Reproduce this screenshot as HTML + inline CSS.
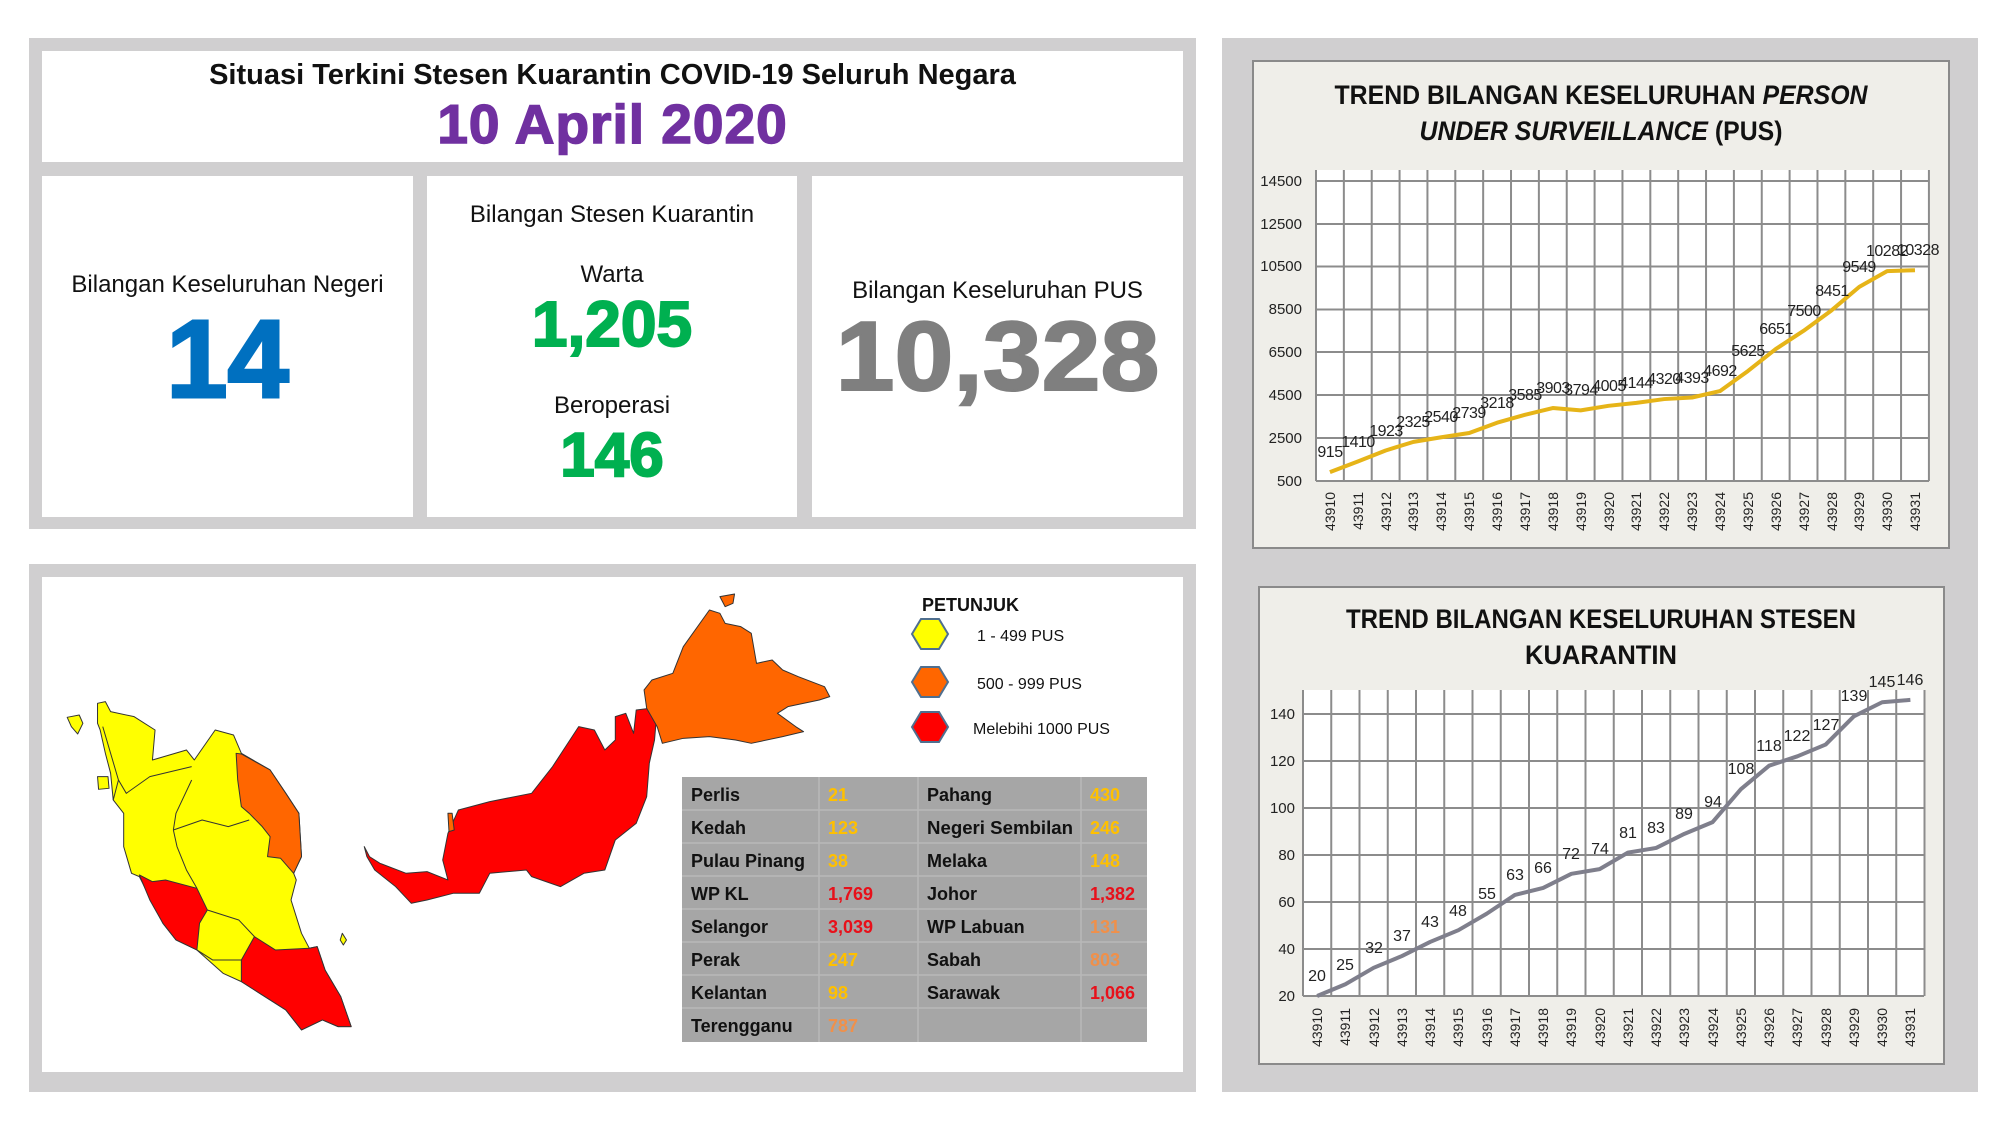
<!DOCTYPE html>
<html><head><meta charset="utf-8">
<style>
html,body{margin:0;padding:0;background:#fff;}
body{width:2000px;height:1125px;position:relative;overflow:hidden;font-family:"Liberation Sans",Arial,sans-serif;}
.a{position:absolute;}
.c{position:absolute;text-align:center;white-space:nowrap;}
</style></head><body>

<!-- top-left panel -->
<div class="a" style="left:29px;top:38px;width:1167px;height:491px;background:#d0cfd0;"></div>
<div class="a" style="left:42px;top:51px;width:1141px;height:111px;background:#fff;"></div>
<div class="a" style="left:42px;top:176px;width:371px;height:341px;background:#fff;"></div>
<div class="a" style="left:427px;top:176px;width:370px;height:341px;background:#fff;"></div>
<div class="a" style="left:812px;top:176px;width:371px;height:341px;background:#fff;"></div>

<div class="c" style="left:42px;width:1141px;top:59px;font-size:29px;font-weight:bold;color:#111;">Situasi Terkini Stesen Kuarantin COVID-19 Seluruh Negara</div>
<div class="c" style="left:42px;width:1141px;top:92px;font-size:55px;font-weight:bold;color:#7030a0;letter-spacing:1px;-webkit-text-stroke:1.5px #7030a0;">10 April 2020</div>

<div class="c" style="left:42px;width:371px;top:271px;font-size:24px;color:#111;">Bilangan Keseluruhan Negeri</div>
<div class="c" style="left:42px;width:371px;top:300px;font-size:110px;font-weight:bold;color:#0070c0;line-height:120px;-webkit-text-stroke:3px #0070c0;">14</div>

<div class="c" style="left:427px;width:370px;top:201px;font-size:24px;color:#111;">Bilangan Stesen Kuarantin</div>
<div class="c" style="left:427px;width:370px;top:261px;font-size:24px;color:#111;">Warta</div>
<div class="c" style="left:427px;width:370px;top:287px;font-size:64px;font-weight:bold;color:#00b050;line-height:74px;-webkit-text-stroke:2px #00b050;">1,205</div>
<div class="c" style="left:427px;width:370px;top:392px;font-size:24px;color:#111;">Beroperasi</div>
<div class="c" style="left:427px;width:370px;top:420px;font-size:62px;font-weight:bold;color:#00b050;line-height:72px;-webkit-text-stroke:2px #00b050;">146</div>

<div class="c" style="left:812px;width:371px;top:277px;font-size:24px;color:#111;">Bilangan Keseluruhan PUS</div>
<div class="c" style="left:812px;width:371px;top:301px;font-size:98px;font-weight:bold;color:#7f7f7f;line-height:110px;transform:scaleX(1.08);-webkit-text-stroke:2px #7f7f7f;">10,328</div>

<!-- bottom-left panel -->
<div class="a" style="left:29px;top:564px;width:1167px;height:528px;background:#d0cfd0;"></div>
<div class="a" style="left:42px;top:577px;width:1141px;height:495px;background:#fff;"></div>

<!-- right panel -->
<div class="a" style="left:1222px;top:38px;width:756px;height:1054px;background:#d0cfd0;"></div>
<div class="a" style="left:1252px;top:60px;width:694px;height:485px;background:#efeee9;border:2px solid #8a8a8a;"></div>
<div class="a" style="left:1258px;top:586px;width:683px;height:475px;background:#efeee9;border:2px solid #8a8a8a;"></div>

<svg class="a" style="left:0;top:0" width="2000" height="1125" viewBox="0 0 2000 1125" font-family="Liberation Sans, Arial, sans-serif">
<!-- MAP -->
<g transform="translate(40,580) scale(0.523,0.3333)" stroke="#333" stroke-width="1" stroke-linejoin="round">
 <path vector-effect="non-scaling-stroke" fill="#ffff00" d="M110,370 L125,365 L135,395 L180,410 L220,450 L215,540 L280,510 L295,540 L335,450 L370,465 L385,520 L440,570 L470,640 L495,700 L500,830 L485,880 L490,900 L480,960 L500,1060 L515,1105 L530,1100 L545,1170 L575,1250 L595,1340 L570,1340 L540,1320 L500,1350 L470,1290 L420,1240 L385,1205 L350,1180 L300,1110 L260,1080 L235,1030 L190,890 L175,880 L160,800 L160,700 L140,660 L135,580 L125,520 L115,450 L110,430 Z"/>
 <path vector-effect="non-scaling-stroke" fill="#ffff00" d="M52,412 L75,405 L82,430 L72,462 L60,440 Z M110,590 L130,590 L132,625 L112,628 Z M578,1060 L586,1080 L580,1095 L574,1080 Z"/>
 <path vector-effect="non-scaling-stroke" fill="#ff6600" d="M375,520 L385,522 L440,570 L470,640 L495,700 L500,830 L485,880 L460,835 L435,830 L440,770 L425,740 L400,700 L385,680 L378,600 Z"/>
 <path vector-effect="non-scaling-stroke" fill="#ff0000" d="M190,885 L215,905 L240,900 L300,925 L320,990 L305,1030 L300,1110 L260,1080 L235,1030 L210,960 Z"/>
 <path vector-effect="non-scaling-stroke" fill="#ff0000" d="M410,1070 L450,1110 L515,1105 L530,1100 L545,1170 L575,1250 L595,1340 L570,1340 L540,1320 L500,1350 L470,1290 L420,1240 L385,1205 L385,1140 Z"/>
 <path vector-effect="non-scaling-stroke" fill="none" d="M120,440 L150,600 L140,660 M150,600 L165,640 L210,590 L290,560 M255,750 L260,700 L290,600 M255,750 L310,720 L360,740 L400,720 M255,750 L262,800 L280,870 L300,925 M320,990 L380,1020 L410,1070 M300,1110 L330,1140 L385,1140"/>
 <path vector-effect="non-scaling-stroke" fill="#ff0000" d="M620,800 L630,830 L650,850 L700,880 L740,875 L780,900 L770,840 L780,760 L800,690 L860,665 L940,640 L980,560 L1030,440 L1060,450 L1080,510 L1100,480 L1100,410 L1120,400 L1135,460 L1140,390 L1165,385 L1180,390 L1175,480 L1165,550 L1160,650 L1140,730 L1100,780 L1080,870 L1040,880 L995,920 L940,890 L930,870 L860,880 L840,940 L790,940 L740,960 L710,970 L680,920 L640,870 L625,830 Z"/>
 <path vector-effect="non-scaling-stroke" fill="#ff6600" d="M1160,385 L1155,330 L1170,300 L1210,280 L1230,200 L1280,90 L1300,100 L1310,130 L1340,140 L1360,160 L1370,250 L1400,240 L1420,270 L1450,290 L1500,320 L1510,350 L1490,360 L1430,380 L1410,400 L1445,440 L1460,455 L1420,470 L1360,490 L1330,480 L1280,470 L1230,475 L1190,490 L1180,440 Z M1300,50 L1328,42 L1325,70 L1310,80 Z M780,700 L788,700 L792,750 L782,755 Z"/>
</g>

<!-- Legend -->
<text x="922" y="611" font-size="18" font-weight="bold" fill="#111">PETUNJUK</text>
<polygon points="912,634 921,619 939,619 948,634 939,649 921,649" fill="#ffff00" stroke="#4f6f8f" stroke-width="2"/>
<polygon points="912,682 921,667 939,667 948,682 939,697 921,697" fill="#ff6600" stroke="#4f6f8f" stroke-width="2"/>
<polygon points="912,727 921,712 939,712 948,727 939,742 921,742" fill="#ff0000" stroke="#4f6f8f" stroke-width="2"/>
<text x="977" y="641" font-size="16" fill="#111">1 - 499 PUS</text>
<text x="977" y="689" font-size="16" fill="#111">500 - 999 PUS</text>
<text x="973" y="734" font-size="16" fill="#111">Melebihi  1000 PUS</text>

<!-- Table -->
<rect x="682" y="777" width="465" height="265" fill="#a6a6a6"/>
<g stroke="#b8b8b8" stroke-width="1.5">
<line x1="819" y1="777" x2="819" y2="1042"/><line x1="918" y1="777" x2="918" y2="1042"/><line x1="1081" y1="777" x2="1081" y2="1042"/>
<line x1="682" y1="810" x2="1147" y2="810"/><line x1="682" y1="843" x2="1147" y2="843"/><line x1="682" y1="876" x2="1147" y2="876"/>
<line x1="682" y1="909" x2="1147" y2="909"/><line x1="682" y1="942" x2="1147" y2="942"/><line x1="682" y1="975" x2="1147" y2="975"/><line x1="682" y1="1008" x2="1147" y2="1008"/>
</g>
<g font-size="18" font-weight="bold">
<g fill="#111">
<text x="691" y="801">Perlis</text><text x="691" y="834">Kedah</text><text x="691" y="867">Pulau Pinang</text><text x="691" y="900">WP KL</text>
<text x="691" y="933">Selangor</text><text x="691" y="966">Perak</text><text x="691" y="999">Kelantan</text><text x="691" y="1032">Terengganu</text>
<text x="927" y="801">Pahang</text><text x="927" y="834" textLength="146" lengthAdjust="spacingAndGlyphs">Negeri Sembilan</text><text x="927" y="867">Melaka</text><text x="927" y="900">Johor</text>
<text x="927" y="933">WP Labuan</text><text x="927" y="966">Sabah</text><text x="927" y="999">Sarawak</text>
</g>
<g fill="#ffc000"><text x="828" y="801">21</text><text x="828" y="834">123</text><text x="828" y="867">38</text><text x="828" y="966">247</text><text x="828" y="999">98</text>
<text x="1090" y="801">430</text><text x="1090" y="834">246</text><text x="1090" y="867">148</text></g>
<g fill="#e8101a"><text x="828" y="900">1,769</text><text x="828" y="933">3,039</text><text x="1090" y="900">1,382</text><text x="1090" y="999">1,066</text></g>
<g fill="#f0904a"><text x="828" y="1032">787</text><text x="1090" y="933">131</text><text x="1090" y="966">803</text></g>
</g>

<!-- CHART 1 -->
<text x="1601" y="104" font-size="27" font-weight="bold" text-anchor="middle" fill="#111" textLength="533" lengthAdjust="spacingAndGlyphs">TREND BILANGAN KESELURUHAN <tspan font-style="italic">PERSON</tspan></text>
<text x="1601" y="140" font-size="27" font-weight="bold" text-anchor="middle" fill="#111" textLength="363" lengthAdjust="spacingAndGlyphs"><tspan font-style="italic">UNDER SURVEILLANCE</tspan> (PUS)</text>
<rect x="1316" y="170" width="613" height="311" fill="#fff"/>
<g stroke="#8c8c8c" stroke-width="2" fill="none">
<path d="M1316 181H1929M1316 224H1929M1316 266.5H1929M1316 309.5H1929M1316 352H1929M1316 395H1929M1316 438H1929M1316 481H1929"/>
<g transform="translate(1316,0) scale(27.86,1)"><path vector-effect="non-scaling-stroke" d="M0 170V481M1 170V481M2 170V481M3 170V481M4 170V481M5 170V481M6 170V481M7 170V481M8 170V481M9 170V481M10 170V481M11 170V481M12 170V481M13 170V481M14 170V481M15 170V481M16 170V481M17 170V481M18 170V481M19 170V481M20 170V481M21 170V481M22 170V481"/></g>
</g>
<g font-size="15" fill="#222" text-anchor="end">
<text x="1302" y="186">14500</text><text x="1302" y="229">12500</text><text x="1302" y="271">10500</text><text x="1302" y="314">8500</text>
<text x="1302" y="357">6500</text><text x="1302" y="400">4500</text><text x="1302" y="443">2500</text><text x="1302" y="486">500</text>
</g>
<g transform="translate(1316,481) scale(27.86,-0.02145)"><polyline vector-effect="non-scaling-stroke" fill="none" stroke="#e6b418" stroke-width="4" stroke-linejoin="round" points="0.5,415 1.5,910 2.5,1423 3.5,1825 4.5,2040 5.5,2239 6.5,2718 7.5,3085 8.5,3403 9.5,3294 10.5,3505 11.5,3644 12.5,3820 13.5,3893 14.5,4192 15.5,5125 16.5,6151 17.5,7000 18.5,7951 19.5,9049 20.5,9782 21.5,9828"/></g>
<g font-size="16" fill="#222" text-anchor="middle" letter-spacing="-0.5">
<text x="1330" y="457">915</text><text x="1358" y="447">1410</text><text x="1386" y="436">1923</text><text x="1413" y="427">2325</text>
<text x="1441" y="422">2540</text><text x="1469" y="418">2739</text><text x="1497" y="408">3218</text><text x="1525" y="400">3585</text>
<text x="1553" y="393">3903</text><text x="1581" y="395">3794</text><text x="1609" y="391">4005</text><text x="1636" y="388">4144</text>
<text x="1664" y="384">4320</text><text x="1692" y="383">4393</text><text x="1720" y="376">4692</text><text x="1748" y="356">5625</text>
<text x="1776" y="334">6651</text><text x="1804" y="316">7500</text><text x="1832" y="296">8451</text><text x="1859" y="272">9549</text>
<text x="1887" y="256">10282</text><text x="1918" y="255">10328</text>
</g>
<g font-size="14" fill="#222" text-anchor="end">
<text transform="translate(1335,492) rotate(-90)">43910</text><text transform="translate(1363,492) rotate(-90)">43911</text><text transform="translate(1391,492) rotate(-90)">43912</text><text transform="translate(1418,492) rotate(-90)">43913</text>
<text transform="translate(1446,492) rotate(-90)">43914</text><text transform="translate(1474,492) rotate(-90)">43915</text><text transform="translate(1502,492) rotate(-90)">43916</text><text transform="translate(1530,492) rotate(-90)">43917</text>
<text transform="translate(1558,492) rotate(-90)">43918</text><text transform="translate(1586,492) rotate(-90)">43919</text><text transform="translate(1614,492) rotate(-90)">43920</text><text transform="translate(1641,492) rotate(-90)">43921</text>
<text transform="translate(1669,492) rotate(-90)">43922</text><text transform="translate(1697,492) rotate(-90)">43923</text><text transform="translate(1725,492) rotate(-90)">43924</text><text transform="translate(1753,492) rotate(-90)">43925</text>
<text transform="translate(1781,492) rotate(-90)">43926</text><text transform="translate(1809,492) rotate(-90)">43927</text><text transform="translate(1837,492) rotate(-90)">43928</text><text transform="translate(1864,492) rotate(-90)">43929</text>
<text transform="translate(1892,492) rotate(-90)">43930</text><text transform="translate(1920,492) rotate(-90)">43931</text>
</g>

<!-- CHART 2 -->
<text x="1601" y="628" font-size="27" font-weight="bold" text-anchor="middle" fill="#111" textLength="510" lengthAdjust="spacingAndGlyphs">TREND BILANGAN KESELURUHAN STESEN</text>
<text x="1601" y="664" font-size="27" font-weight="bold" text-anchor="middle" fill="#111" textLength="152" lengthAdjust="spacingAndGlyphs">KUARANTIN</text>
<rect x="1303" y="690" width="621" height="306" fill="#fff"/>
<g stroke="#8c8c8c" stroke-width="2" fill="none">
<path d="M1303 714H1924M1303 761H1924M1303 808H1924M1303 855H1924M1303 902H1924M1303 949H1924M1303 996H1924"/>
<g transform="translate(1303,0) scale(28.25,1)"><path vector-effect="non-scaling-stroke" d="M0 690V996M1 690V996M2 690V996M3 690V996M4 690V996M5 690V996M6 690V996M7 690V996M8 690V996M9 690V996M10 690V996M11 690V996M12 690V996M13 690V996M14 690V996M15 690V996M16 690V996M17 690V996M18 690V996M19 690V996M20 690V996M21 690V996M22 690V996"/></g>
</g>
<g font-size="15" fill="#222" text-anchor="end">
<text x="1295" y="719">140</text><text x="1295" y="766">120</text><text x="1295" y="813">100</text><text x="1295" y="860">80</text>
<text x="1295" y="907">60</text><text x="1295" y="954">40</text><text x="1295" y="1001">20</text>
</g>
<g transform="translate(1303,996) scale(28.25,-2.35)"><polyline vector-effect="non-scaling-stroke" fill="none" stroke="#7f7f8c" stroke-width="4" stroke-linejoin="round" points="0.5,0 1.5,5 2.5,12 3.5,17 4.5,23 5.5,28 6.5,35 7.5,43 8.5,46 9.5,52 10.5,54 11.5,61 12.5,63 13.5,69 14.5,74 15.5,88 16.5,98 17.5,102 18.5,107 19.5,119 20.5,125 21.5,126"/></g>
<g font-size="16" fill="#222" text-anchor="middle">
<text x="1317" y="981">20</text><text x="1345" y="970">25</text><text x="1374" y="953">32</text><text x="1402" y="941">37</text>
<text x="1430" y="927">43</text><text x="1458" y="916">48</text><text x="1487" y="899">55</text><text x="1515" y="880">63</text>
<text x="1543" y="873">66</text><text x="1571" y="859">72</text><text x="1600" y="854">74</text><text x="1628" y="838">81</text>
<text x="1656" y="833">83</text><text x="1684" y="819">89</text><text x="1713" y="807">94</text><text x="1741" y="774">108</text>
<text x="1769" y="751">118</text><text x="1797" y="741">122</text><text x="1826" y="730">127</text><text x="1854" y="701">139</text>
<text x="1882" y="687">145</text><text x="1910" y="685">146</text>
</g>
<g font-size="14" fill="#222" text-anchor="end">
<text transform="translate(1322,1008) rotate(-90)">43910</text><text transform="translate(1350,1008) rotate(-90)">43911</text><text transform="translate(1379,1008) rotate(-90)">43912</text><text transform="translate(1407,1008) rotate(-90)">43913</text>
<text transform="translate(1435,1008) rotate(-90)">43914</text><text transform="translate(1463,1008) rotate(-90)">43915</text><text transform="translate(1492,1008) rotate(-90)">43916</text><text transform="translate(1520,1008) rotate(-90)">43917</text>
<text transform="translate(1548,1008) rotate(-90)">43918</text><text transform="translate(1576,1008) rotate(-90)">43919</text><text transform="translate(1605,1008) rotate(-90)">43920</text><text transform="translate(1633,1008) rotate(-90)">43921</text>
<text transform="translate(1661,1008) rotate(-90)">43922</text><text transform="translate(1689,1008) rotate(-90)">43923</text><text transform="translate(1718,1008) rotate(-90)">43924</text><text transform="translate(1746,1008) rotate(-90)">43925</text>
<text transform="translate(1774,1008) rotate(-90)">43926</text><text transform="translate(1802,1008) rotate(-90)">43927</text><text transform="translate(1831,1008) rotate(-90)">43928</text><text transform="translate(1859,1008) rotate(-90)">43929</text>
<text transform="translate(1887,1008) rotate(-90)">43930</text><text transform="translate(1915,1008) rotate(-90)">43931</text>
</g>
</svg>
</body></html>
